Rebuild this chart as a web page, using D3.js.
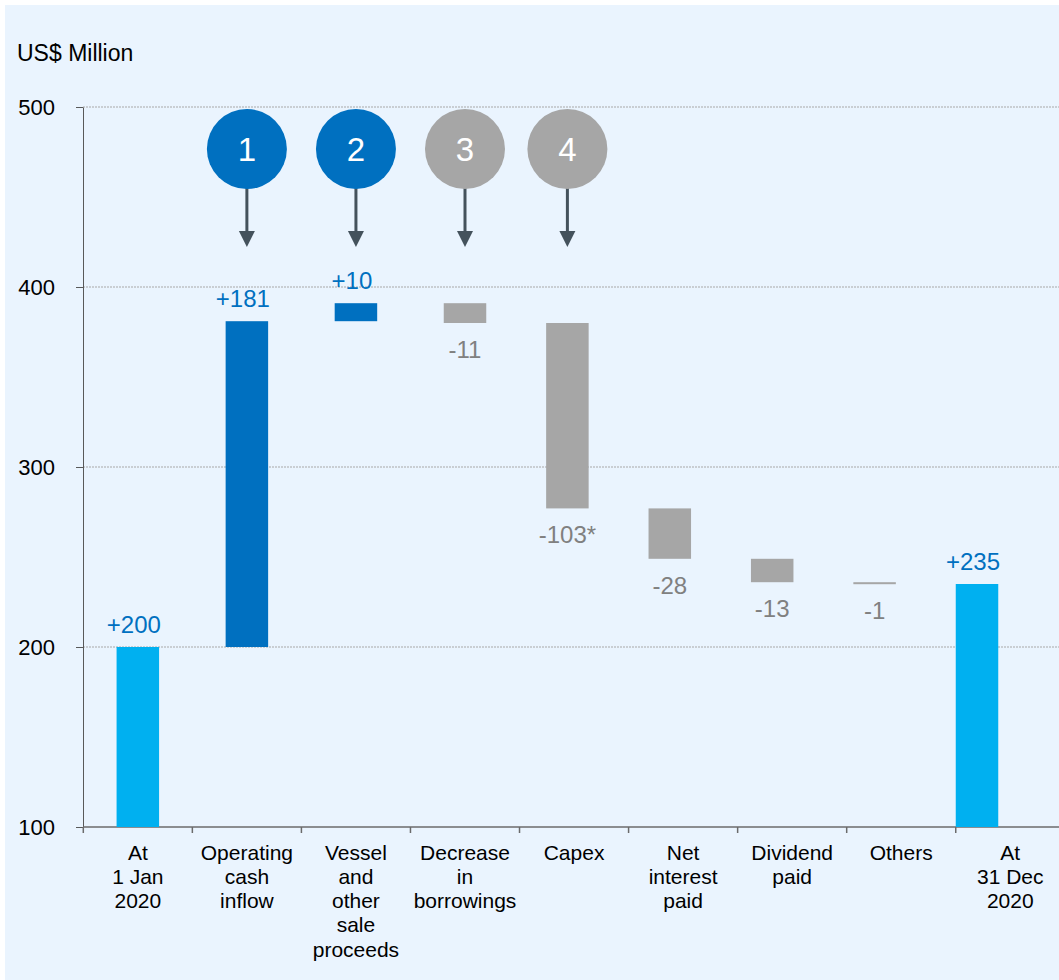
<!DOCTYPE html>
<html lang="en">

<head>
    <meta charset="UTF-8">
    <title>Cash waterfall 2020</title>
    <style>
        body { margin: 0; background: #fff; }
        text { font-family: "Liberation Sans", Arial, sans-serif; }
    </style>
</head>

<body>
    <script src="https://cdn.jsdelivr.net/npm/d3@7"></script>
    <script>
        // data
        const categories = [
            ["At", "1 Jan", "2020"],
            ["Operating", "cash", "inflow"],
            ["Vessel", "and", "other", "sale", "proceeds"],
            ["Decrease", "in", "borrowings"],
            ["Capex"],
            ["Net", "interest", "paid"],
            ["Dividend", "paid"],
            ["Others"],
            ["At", "31 Dec", "2020"]
        ];
        const changes = [200, 181, 10, -11, -103, -28, -13, -1, 235];
        const isTotal = [true, false, false, false, false, false, false, false, true];
        const valueLabels = ["+200", "+181", "+10", "-11", "-103*", "-28", "-13", "-1", "+235"];
        const yTicks = [100, 200, 300, 400, 500];
        const markerNums = [1, 2, 3, 4];
        const markerIndex = [1, 2, 3, 4];

        const svg_w = 1059;
        const svg_h = 980;

        const svg = d3.select('body')
            .append('svg')
            .attr('width', svg_w)
            .attr('height', svg_h);

        svg.append('rect')
            .attr('x', 5)
            .attr('y', 5)
            .attr('width', svg_w - 5)
            .attr('height', svg_h - 5)
            .attr('fill', '#eaf4fe');

        const y = d3.scaleLinear().domain([100, 500]).range([827, 107]);

        const keys = categories.map((c, i) => i);
        const xBand = d3.scaleBand().domain(keys).range([83.3, 1064.8]);
        const bandMid = i => xBand(i) + xBand.bandwidth() / 2;

        // bars are not evenly spread in the original, so they get their own scale
        const barX = d3.scaleLinear()
            .domain([0, 3, 8])
            .range([bandMid(0), bandMid(3), 977]);
        const barW = 42.5;

        // waterfall steps
        let running = 0;
        const steps = changes.map((v, i) => {
            let lo, hi;
            if (isTotal[i]) {
                lo = y.domain()[0];
                hi = v;
                running = v;
            } else {
                const start = running;
                running = running + v;
                lo = Math.min(start, running);
                hi = Math.max(start, running);
            }
            return { i: i, v: v, lo: lo, hi: hi };
        });

        const barColor = d => isTotal[d.i] ? '#00b0f0' : (d.v > 0 ? '#0070c0' : '#a6a6a6');

        // gridlines
        svg.append('g')
            .selectAll('line')
            .data(yTicks.slice(1))
            .enter()
            .append('line')
            .attr('x1', 83)
            .attr('x2', svg_w)
            .attr('y1', d => y(d))
            .attr('y2', d => y(d))
            .attr('stroke', '#a8a8a8')
            .attr('stroke-width', 1)
            .attr('stroke-dasharray', '2,1');

        // y axis
        const yAxis = svg.append('g')
            .attr('transform', 'translate(83,0)')
            .call(d3.axisLeft(y).tickValues(yTicks).tickSize(7).tickPadding(21).tickSizeOuter(0));
        yAxis.select('.domain').attr('stroke', '#595959');
        yAxis.selectAll('.tick line').attr('stroke', '#595959');
        yAxis.selectAll('.tick text')
            .attr('fill', '#000')
            .style('font-size', '22px')
            .style('font-family', '"Liberation Sans", Arial, sans-serif');

        svg.append('text')
            .attr('x', 17)
            .attr('y', 61)
            .attr('fill', '#000')
            .style('font-size', '23px')
            .text('US$ Million');

        // x axis line with ticks between categories
        svg.append('line')
            .attr('x1', 83)
            .attr('x2', svg_w)
            .attr('y1', y(100))
            .attr('y2', y(100))
            .attr('stroke', '#6b6b6b')
            .attr('stroke-width', 1.5);

        svg.append('g')
            .selectAll('line')
            .data(keys)
            .enter()
            .append('line')
            .attr('x1', d => xBand(d))
            .attr('x2', d => xBand(d))
            .attr('y1', y(100))
            .attr('y2', y(100) + 6)
            .attr('stroke', '#6b6b6b')
            .attr('stroke-width', 1.5);

        const catText = svg.append('g')
            .selectAll('text')
            .data(keys)
            .enter()
            .append('text')
            .attr('text-anchor', 'middle')
            .attr('fill', '#000')
            .style('font-size', '21px');

        catText.each(function (d) {
            const t = d3.select(this);
            categories[d].forEach((line, k) => {
                t.append('tspan')
                    .attr('x', bandMid(d))
                    .attr('y', 859.5 + k * 24.3)
                    .text(line);
            });
        });

        // bars
        svg.append('g')
            .selectAll('rect')
            .data(steps)
            .enter()
            .append('rect')
            .attr('x', d => barX(d.i) - barW / 2)
            .attr('width', barW)
            .attr('y', d => y(d.hi))
            .attr('height', d => Math.max(2, y(d.lo) - y(d.hi)))
            .attr('fill', barColor);

        // value labels
        svg.append('g')
            .selectAll('text')
            .data(steps)
            .enter()
            .append('text')
            .attr('x', d => barX(d.i) - (d.v > 0 ? 4 : 0))
            .attr('y', d => d.v > 0 ? y(d.hi) - 14 : y(d.lo) + 35)
            .attr('text-anchor', 'middle')
            .attr('fill', d => d.v > 0 ? '#0070c0' : '#808080')
            .style('font-size', '24px')
            .text(d => valueLabels[d.i]);

        // numbered markers with arrows
        const cy = 149;
        const mk = svg.append('g')
            .selectAll('g')
            .data(markerNums)
            .enter()
            .append('g')
            .attr('transform', (d, k) => 'translate(' + barX(markerIndex[k]) + ',0)');

        mk.append('line')
            .attr('x1', 0)
            .attr('x2', 0)
            .attr('y1', cy + 38)
            .attr('y2', 234)
            .attr('stroke', '#44525c')
            .attr('stroke-width', 3);

        mk.append('path')
            .attr('d', 'M-8,231L8,231L0,247Z')
            .attr('fill', '#44525c');

        mk.append('circle')
            .attr('cx', 0)
            .attr('cy', cy)
            .attr('r', 40)
            .attr('fill', (d, k) => changes[markerIndex[k]] > 0 ? '#0070c0' : '#a6a6a6');

        mk.append('text')
            .attr('x', 0)
            .attr('y', cy + 12)
            .attr('text-anchor', 'middle')
            .attr('fill', '#fff')
            .style('font-size', '33px')
            .text(d => d);
    </script>
</body>

</html>
